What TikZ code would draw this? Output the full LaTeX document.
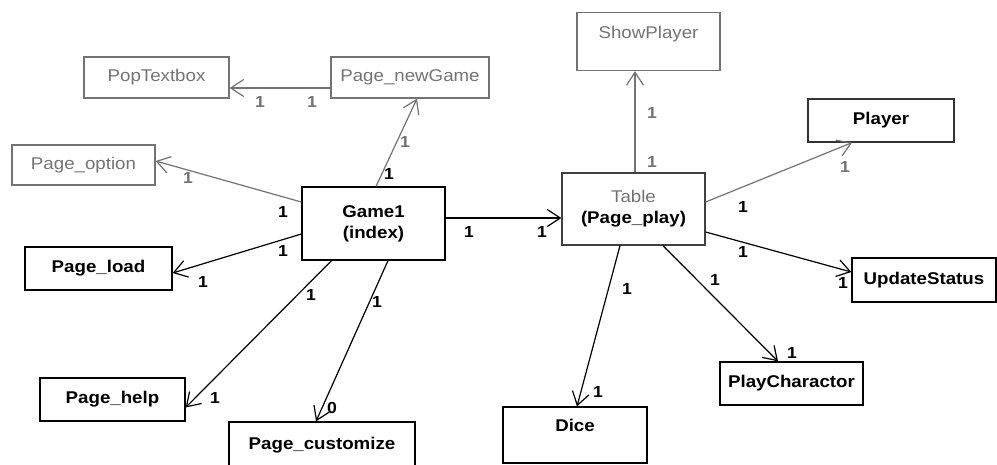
\documentclass[tikz,border=0pt]{standalone}
\usepackage{fontspec}
\setmainfont{Liberation Sans}[FakeStretch=1.1]
\usetikzlibrary{arrows.meta}
\definecolor{umlgray}{gray}{0.45}
\begin{document}
\begin{tikzpicture}[x=1pt,y=-1pt,
  cls/.style={draw, line width=1.3pt, inner sep=0pt, align=center,
    font=\fontsize{17}{21}\selectfont\bfseries},
  dimcls/.style={cls, draw=umlgray, text=umlgray, font=\fontsize{17}{21}\selectfont},
  assoc/.style={line width=1.2pt,
    -{Straight Barb[length=13pt,width=17pt,line width=1.2pt]}},
  dimassoc/.style={assoc, draw=umlgray},
  mult/.style={inner sep=0pt, font=\fontsize{16}{18}\selectfont\bfseries},
  dimmult/.style={mult, text=umlgray},
]
\fill[white] (0,0) rectangle (997,464);
\useasboundingbox (0,0) rectangle (997,464);

% classes
\node[dimcls, minimum width=145pt, minimum height=41pt] (pop) at (156.5,77.5) {PopTextbox};
\node[dimcls, minimum width=158pt, minimum height=41pt] (newgame) at (410,77.5) {Page\_newGame};
\node[dimcls, minimum width=143pt, minimum height=40pt] (option) at (83.5,165) {Page\_option};
\node[cls, minimum width=143pt, minimum height=73pt] (game) at (373.5,223.5) {Game1\\(index)};
\node[cls, minimum width=147pt, minimum height=43pt] (load) at (98.5,268.5) {Page\_load};
\node[cls, minimum width=145pt, minimum height=43pt] (help) at (112.5,399.5) {Page\_help};
\node[cls, minimum width=186pt, minimum height=46pt] (custom) at (322,445) {Page\_customize};
\node[dimcls, minimum width=143pt, minimum height=58pt, text height=13pt, text depth=20pt] (show) at (648.5,41.5) {ShowPlayer};
\node[cls, draw=black!75, minimum width=143pt, minimum height=72pt] (table) at (633.5,209)
  {{\mdseries\color{umlgray}Table}\\(Page\_play)};
\node[cls, draw=black!80, minimum width=146pt, minimum height=43pt] (player) at (881,120.5) {Player};
\node[cls, minimum width=144pt, minimum height=44pt] (update) at (924,280) {UpdateStatus};
\node[cls, minimum width=143pt, minimum height=43pt] (playchar) at (791.5,383.5) {PlayCharactor};
\node[cls, minimum width=144pt, minimum height=56pt, text height=13pt, text depth=20pt] (dice) at (575,435) {Dice};

% associations
\draw[dimassoc] ([yshift=-10.5pt]newgame.west) -- ([yshift=-10.5pt]pop.east);
\draw[dimassoc] ([xshift=2.5pt]game.north) -- ([xshift=7pt]newgame.south);
\draw[dimassoc] ([yshift=21.5pt]game.west) -- ([yshift=4pt]option.east);
\draw[assoc] ([yshift=-10.5pt]game.west) -- ([yshift=-4.5pt]load.east);
\draw[assoc] ([xshift=-42pt]game.south) -- ([yshift=-8pt]help.east);
\draw[assoc] ([xshift=14.5pt]game.south) -- ([xshift=-6pt]custom.north);
\draw[assoc] ([yshift=5.5pt]game.east) -- ([yshift=-9pt]table.west);
\draw[dimassoc] ([xshift=1.5pt]table.north) -- ([xshift=-13.5pt]show.south);
\draw[dimassoc] ([yshift=7pt]table.east) -- ([xshift=-29pt]player.south);
\draw[assoc] ([yshift=-23pt]table.east) -- ([yshift=8pt]update.west);
\draw[assoc] ([xshift=-13.5pt]table.south) -- ([xshift=2pt]dice.north);
\draw[assoc] ([xshift=29.5pt]table.south) -- ([xshift=-13.5pt]playchar.north);

% multiplicities
\node[dimmult] (m1a) at (260,102) {1};
\node[dimmult] (m1b) at (312,102) {1};
\node[dimmult] (m2a) at (405,142) {1};
\node[mult] (m2b) at (389,174) {1};
\node[dimmult] (m3a) at (188,178) {1};
\node[mult] (m3b) at (283,212) {1};
\node[mult] (m4a) at (283,251) {1};
\node[mult] (m4b) at (203,282) {1};
\node[mult] (m5a) at (311,295) {1};
\node[mult] (m5b) at (215,398) {1};
\node[mult] (m6a) at (377,302) {1};
\node[mult] (m6b) at (332,408) {0};
\node[mult] (m7a) at (469,232) {1};
\node[mult] (m7b) at (542,232) {1};
\node[dimmult] (m8a) at (652,113) {1};
\node[dimmult] (m8b) at (652,162) {1};
\node[mult] (m9a) at (743,207) {1};
\node[dimmult] (m9b) at (845,167) {1};
\node[mult] (m10a) at (743,252) {1};
\node[mult] (m10b) at (843,283) {1};
\node[mult] (m11a) at (627,289) {1};
\node[mult] (m11b) at (598,392) {1};
\node[mult] (m12a) at (715,280) {1};
\node[mult] (m12b) at (792,353) {1};
\end{tikzpicture}
\end{document}
